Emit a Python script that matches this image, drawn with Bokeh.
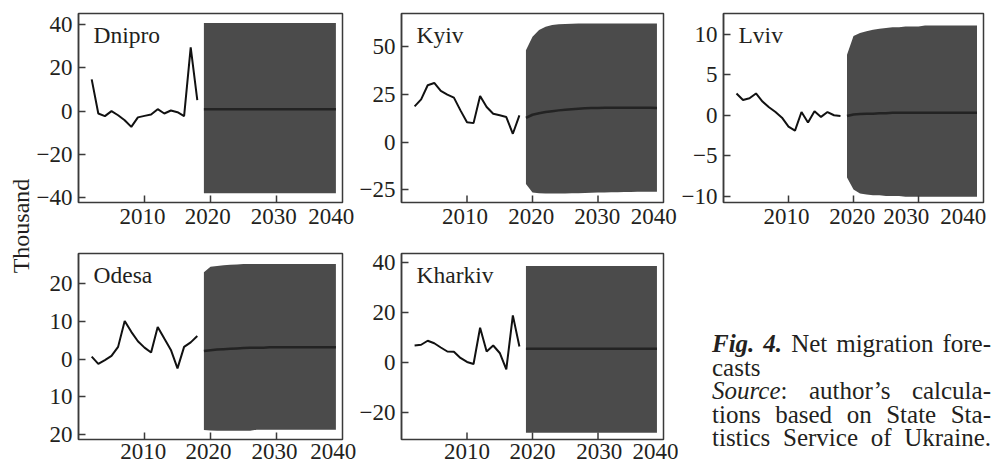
import math
from bokeh.plotting import figure
from bokeh.layouts import row, column
from bokeh.models import Range1d, FixedTicker, Label, LinearAxis, CustomJSTickFormatter, Div
from bokeh.embed import file_html
from bokeh.resources import INLINE

# ---------------- data ----------------
HIST_YEARS = list(range(2002, 2019))
FC_YEARS = list(range(2019, 2040))
X_TICKS = [2010, 2020, 2030]
X_TICK_LABELS = ["2010", "2020", "2030", "2040"]

dnipro_hist = [14.7, -1.1, -2.3, 0.0, -1.9, -4.2, -7.3, -2.9, -2.2, -1.6, 0.9, -1.1, 0.3, -0.5, -2.3, 29.5, 5.1]
dnipro_mean = [0.9, 0.9, 0.9, 0.9, 0.9, 0.9, 0.9, 0.9, 0.9, 0.9, 0.9, 0.9, 0.9, 0.9, 0.9, 0.9, 0.9, 0.9, 0.9, 0.9, 0.9]
dnipro_hi = [40.8, 40.8, 40.8, 40.8, 40.8, 40.8, 40.8, 40.8, 40.8, 40.8, 40.8, 40.8, 40.8, 40.8, 40.8, 40.8, 40.8, 40.8, 40.8, 40.8, 40.8]
dnipro_lo = [-38.0, -38.0, -38.0, -38.0, -38.0, -38.0, -38.0, -38.0, -38.0, -38.0, -38.0, -38.0, -38.0, -38.0, -38.0, -38.0, -38.0, -38.0, -38.0, -38.0, -38.0]
dnipro_yticks = [-40, -20, 0, 20, 40]

kyiv_hist = [18.8, 22.5, 29.9, 31.1, 26.9, 25.0, 23.4, 16.7, 10.5, 10.0, 24.3, 18.5, 14.9, 14.1, 13.2, 4.4, 14.1]
kyiv_mean = [12.8, 14.4, 15.2, 15.8, 16.3, 16.7, 17.0, 17.3, 17.6, 17.8, 17.9, 18.0, 18.1, 18.1, 18.1, 18.1, 18.1, 18.1, 18.1, 18.1, 18.0]
kyiv_hi = [48.3, 55.4, 58.9, 60.6, 61.5, 61.9, 62.1, 62.2, 62.3, 62.4, 62.4, 62.4, 62.4, 62.4, 62.4, 62.4, 62.4, 62.4, 62.4, 62.4, 62.4]
kyiv_lo = [-22.0, -26.4, -26.9, -27.0, -27.0, -27.0, -27.0, -26.9, -26.8, -26.7, -26.6, -26.5, -26.4, -26.3, -26.3, -26.2, -26.2, -26.1, -26.1, -26.0, -26.0]
kyiv_yticks = [-25, 0, 25, 50]

lviv_hist = [2.7, 1.9, 2.1, 2.7, 1.7, 1.0, 0.4, -0.3, -1.4, -1.9, 0.4, -0.9, 0.5, -0.2, 0.4, 0.0, -0.1]
lviv_mean = [-0.1, 0.1, 0.15, 0.2, 0.2, 0.25, 0.25, 0.3, 0.3, 0.3, 0.3, 0.3, 0.3, 0.3, 0.3, 0.3, 0.3, 0.3, 0.3, 0.3, 0.3]
lviv_hi = [7.5, 9.8, 10.2, 10.4, 10.6, 10.7, 10.8, 10.9, 10.9, 11.0, 11.0, 11.0, 11.1, 11.1, 11.1, 11.1, 11.1, 11.1, 11.1, 11.1, 11.1]
lviv_lo = [-7.7, -9.2, -9.7, -9.8, -9.9, -9.9, -10.0, -10.0, -10.0, -10.1, -10.1, -10.1, -10.1, -10.1, -10.1, -10.1, -10.1, -10.1, -10.1, -10.1, -10.1]
lviv_yticks = [-10, -5, 0, 5, 10]

odesa_hist = [0.7, -1.2, -0.2, 0.9, 3.3, 10.2, 7.3, 4.8, 3.1, 1.8, 8.6, 5.5, 2.5, -2.4, 3.3, 4.5, 6.2]
odesa_mean = [2.2, 2.4, 2.6, 2.7, 2.8, 2.9, 3.0, 3.1, 3.1, 3.1, 3.2, 3.2, 3.2, 3.2, 3.2, 3.2, 3.2, 3.2, 3.2, 3.2, 3.2]
odesa_hi = [23.1, 24.6, 24.8, 25.0, 25.1, 25.2, 25.3, 25.3, 25.3, 25.3, 25.3, 25.3, 25.3, 25.3, 25.3, 25.3, 25.3, 25.3, 25.3, 25.3, 25.3]
odesa_lo = [-18.8, -18.9, -19.0, -19.0, -19.0, -19.0, -19.0, -19.0, -18.7, -18.7, -18.7, -18.7, -18.7, -18.7, -18.7, -18.7, -18.7, -18.7, -18.7, -18.7, -18.7]
odesa_yticks = [-20, -10, 0, 10, 20]

kharkiv_hist = [6.7, 7.0, 8.6, 7.6, 5.9, 4.3, 4.2, 1.7, 0.1, -0.7, 13.8, 4.3, 6.7, 3.7, -2.9, 18.8, 6.3]
kharkiv_mean = [5.4, 5.4, 5.4, 5.4, 5.4, 5.4, 5.4, 5.4, 5.4, 5.4, 5.4, 5.4, 5.4, 5.4, 5.4, 5.4, 5.4, 5.4, 5.4, 5.4, 5.4]
kharkiv_hi = [38.6, 38.6, 38.6, 38.6, 38.6, 38.6, 38.6, 38.6, 38.6, 38.6, 38.6, 38.6, 38.6, 38.6, 38.6, 38.6, 38.6, 38.6, 38.6, 38.6, 38.6]
kharkiv_lo = [-28.3, -28.3, -28.3, -28.3, -28.3, -28.3, -28.3, -28.3, -28.3, -28.3, -28.3, -28.3, -28.3, -28.3, -28.3, -28.3, -28.3, -28.3, -28.3, -28.3, -28.3]
kharkiv_yticks = [-20, 0, 20, 40]

Y_LABEL = "Thousand"
CAPTION_LINES = [
    ("<b><i>Fig. 4.</i></b> Net migration fore-", True),
    ("casts", False),
    ("<i>Source</i>: author&rsquo;s calcula-", True),
    ("tions based on State Sta-", True),
    ("tistics Service of Ukraine.", True),
]

# ---------------- style ----------------
FONT = "Liberation Serif"
TEXT = "#231f20"
FRAME = "#3a3a3a"
BAND = "#4b4b4b"
MEAN = "#232323"
HIST = "#111111"
TICK_FS = "23px"
TITLE_FS = "23.5px"

NEG_FMT = "return tick < 0 ? '\\u2212' + Math.abs(tick) : String(tick);"
ABS_FMT = "return String(Math.abs(tick));"


def make_panel(name, hist, mean, lo, hi, yr, yticks, label_pos, width, height,
               bl, br, bt, bb, x_standoff, ycode=NEG_FMT):
    p = figure(width=width, height=height, x_range=Range1d(2000, 2040),
               y_range=Range1d(yr[0], yr[1]), output_backend="svg",
               toolbar_location=None, x_axis_location=None, y_axis_location=None,
               min_border_left=bl, min_border_right=br, min_border_top=bt,
               min_border_bottom=bb)
    p.grid.visible = False
    p.outline_line_color = FRAME
    p.outline_line_width = 1.5
    p.outline_line_alpha = 1.0
    p.background_fill_color = "white"
    p.border_fill_color = "white"

    p.varea(x=FC_YEARS, y1=lo, y2=hi, fill_color=BAND, fill_alpha=1.0)
    p.line(FC_YEARS, mean, line_color=MEAN, line_width=2.5)
    p.line(HIST_YEARS, hist, line_color=HIST, line_width=2)

    # inward x tick marks at the decade ticks, rising from the bottom of the frame
    p.ray(x=X_TICKS, y=[yr[0]] * len(X_TICKS), length=7, length_units="screen",
          angle=math.pi / 2, line_color=FRAME, line_width=1.5)

    # x axis: tick labels (the frame outline draws the axis line)
    ax_l = LinearAxis(ticker=FixedTicker(ticks=label_pos, minor_ticks=[]),
                      formatter=CustomJSTickFormatter(args=dict(labels=X_TICK_LABELS),
                                                      code="return labels[index];"),
                      axis_line_color=None, major_tick_line_color=None,
                      minor_tick_line_color=None, major_tick_in=0, major_tick_out=0,
                      minor_tick_in=0, minor_tick_out=0, major_label_standoff=x_standoff,
                      major_label_text_font=FONT, major_label_text_font_size=TICK_FS,
                      major_label_text_color=TEXT)
    p.add_layout(ax_l, "below")
    # y axis
    ay = LinearAxis(ticker=FixedTicker(ticks=yticks, minor_ticks=[]),
                    formatter=CustomJSTickFormatter(code=ycode),
                    major_tick_in=7, major_tick_out=0, minor_tick_in=0, minor_tick_out=0,
                    axis_line_color=FRAME, axis_line_width=1.5,
                    major_tick_line_color=FRAME, major_tick_line_width=1.5,
                    major_label_standoff=6, major_label_text_font=FONT,
                    major_label_text_font_size=TICK_FS, major_label_text_color=TEXT)
    p.add_layout(ay, "left")

    p.add_layout(Label(x=2000, y=yr[1], x_offset=15, y_offset=-8, text=name,
                       text_align="left", text_baseline="top", text_font=FONT,
                       text_font_size=TITLE_FS, text_color=TEXT))
    return p


H1 = 234   # top row height
H2 = 234   # bottom row height
W0, W1, W2, W3 = 33, 323, 322, 317

d = make_panel("Dnipro", dnipro_hist, dnipro_mean, dnipro_lo, dnipro_hi, (-42.3, 45.2),
               dnipro_yticks, [2009.7, 2019.6, 2029.6, 2038.3], W1, H1, 45, 14, 13, 32, 6)
k = make_panel("Kyiv", kyiv_hist, kyiv_mean, kyiv_lo, kyiv_hi, (-31.7, 67.6),
               kyiv_yticks, [2009.7, 2019.8, 2029.9, 2038.5], W2, H1, 43, 15, 13, 32, 6)
l = make_panel("Lviv", lviv_hist, lviv_mean, lviv_lo, lviv_hi, (-10.8, 12.6),
               lviv_yticks, [2009.7, 2019.8, 2028.1, 2036.9], W3, H1, 43, 12, 13, 32, 6)
o = make_panel("Odesa", odesa_hist, odesa_mean, odesa_lo, odesa_hi, (-21.3, 28.1),
               odesa_yticks, [2009.8, 2019.7, 2029.7, 2038.6], W1, H2, 45, 14, 19, 29, 4,
               ycode=ABS_FMT)
kh = make_panel("Kharkiv", kharkiv_hist, kharkiv_mean, kharkiv_lo, kharkiv_hi, (-31.0, 43.6),
                kharkiv_yticks, [2010.0, 2020.0, 2030.2, 2038.9], W2, H2, 43, 15, 19, 29, 4)

HT = H1 + H2

# y-axis title figure
tf = figure(width=W0, height=HT, x_range=Range1d(0, W0), y_range=Range1d(0, HT),
            output_backend="svg", toolbar_location=None, x_axis_location=None,
            y_axis_location=None, min_border=0, outline_line_color=None)
tf.grid.visible = False
tf.add_layout(Label(x=20.5, y=HT - 225.5, text=Y_LABEL, angle=math.pi / 2,
                    text_align="center", text_baseline="middle", text_font=FONT,
                    text_font_size="24px", text_color=TEXT))

# caption (justified text block, right of the bottom row)
line_html = []
for txt, just in CAPTION_LINES:
    al = "text-align:justify;text-align-last:justify;" if just else "text-align:left;"
    line_html.append('<div style="%s">%s</div>' % (al, txt))
cap_html = ('<div style="box-sizing:content-box;margin:0;padding:0;'
            'position:absolute;left:34px;top:98px;width:279px;'
            "font-family:'Liberation Serif',serif;font-size:25px;line-height:23.5px;"
            'color:%s;">%s</div>' % (TEXT, "".join(line_html)))
cap = Div(text=cap_html, width=W3, height=H2, margin=0,
          styles={"position": "relative", "overflow": "visible"})

layout = row(tf, column(row(d, k, l), row(o, kh, cap)))

open("out.html", "w", encoding="utf-8").write(file_html(layout, INLINE))
